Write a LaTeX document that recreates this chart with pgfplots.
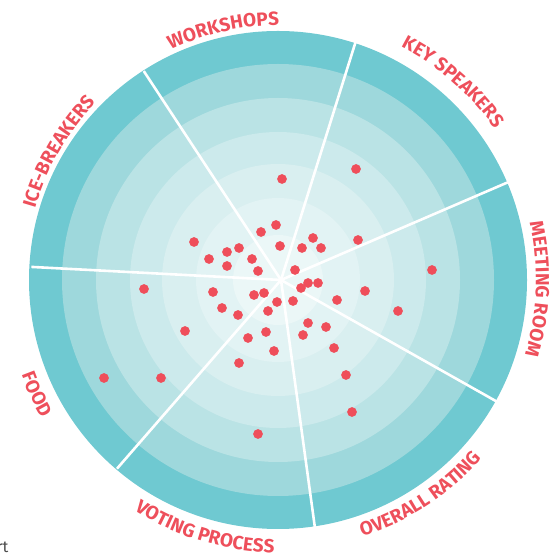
\documentclass[border=0pt]{standalone}
\usepackage{pgfplots}
\pgfplotsset{compat=1.18}
\usepackage{fontspec}
\setmainfont{Fira Sans}
\usetikzlibrary{decorations.text}

\definecolor{dotred}{HTML}{EF4E5A}
\definecolor{labred}{HTML}{EE4F5B}
\definecolor{ringA}{HTML}{6FC9D1}
\definecolor{ringB}{HTML}{9ED8DC}
\definecolor{ringC}{HTML}{BAE3E5}
\definecolor{ringD}{HTML}{CCEAEC}
\definecolor{ringE}{HTML}{D9EFF0}
\definecolor{ringF}{HTML}{E2F3F4}
\definecolor{ringG}{HTML}{EBF7F7}

\newcommand\lbl{\fontsize{19}{19}\selectfont\bfseries\color{labred}}
% top labels run clockwise (letters face out), bottom ones anticlockwise
% overlay: the arc's control points would otherwise grow the page
\newcommand\toplabel[3]{\path[overlay,decorate,decoration={text along path,text align=center,text={|\lbl|#3}}]
  (#1+40:#2pt) arc[start angle=#1+40,end angle=#1-40,radius=#2pt];}
\newcommand\botlabel[3]{\path[overlay,decorate,decoration={text along path,text align=center,text={|\lbl|#3}}]
  (#1-40:#2pt) arc[start angle=#1-40,end angle=#1+40,radius=#2pt];}

\pgfplotstableread{
x y
-87 38
-72 21
-54 28
-42 32
-54 14
-29 21
-23 9
-20 48
-5 55
1 101
75 111
32 42
-1 34
21 32
40 32
77 40
14 10
151 10
27 -3
37 -3
20 -8
84 -11
56 -20
12 -21
-4 -22
-137 -9
-68 -12
-27 -15
-17 -13
-59 -28
-43 -35
-13 -31
-96 -51
-15 -52
-33 -58
-7 -71
-42 -83
-177 -98
-120 -98
-23 -154
117 -31
27 -43
45 -47
22 -55
53 -68
65 -95
71 -132
}\scores

\begin{document}
\begin{tikzpicture}
\begin{axis}[
  x=1pt, y=1pt,
  xmin=-281, xmax=268, ymin=-279, ymax=280,
  hide axis, clip=false,
]
  \path (axis cs:-281,-279) rectangle (axis cs:268,280);
  % rings, outer to inner
  \fill[ringA] (axis cs:-3,0) circle[radius=249];
  \fill[ringB] (axis cs:-3,0) circle[radius=216];
  \fill[ringC] (axis cs:-3,0) circle[radius=182];
  \fill[ringD] (axis cs:-3,0) circle[radius=148];
  \fill[ringE] (axis cs:-3,0) circle[radius=116];
  \fill[ringF] (axis cs:-3,0) circle[radius=82];
  \fill[ringG] (axis cs:-3,0) circle[radius=45];
  % sector dividers
  \pgfplotsinvokeforeach{123.3,72.6,23.3,-29.4,-82.2,229,177}{
    \draw[white,line width=2.6pt] (axis cs:0,0) -- (axis cs:{250*cos(#1)},{250*sin(#1)});
  }
  \addplot[only marks, mark=*, mark size=4.6pt, mark options={fill=dotred, draw=dotred}]
    table[x=x,y=y] {\scores};
  \coordinate (C) at (axis cs:0,0);
\end{axis}
\begin{scope}[shift={(C)}]
  \toplabel{150}{256}{ICE-BREAKERS}
  \toplabel{103}{255}{WORKSHOPS}
  \toplabel{49}{262}{KEY SPEAKERS}
  \toplabel{-2}{255}{MEETING ROOM}
  \botlabel{-57}{269}{OVERALL RATING}
  \botlabel{-107}{273}{VOTING PROCESS}
  \botlabel{205}{276}{FOOD}
  \node[overlay, anchor=base east, text=black!70, font=\fontsize{16}{16}\selectfont] at (-269pt,-273pt) {Chart};
\end{scope}
\end{tikzpicture}
\end{document}
